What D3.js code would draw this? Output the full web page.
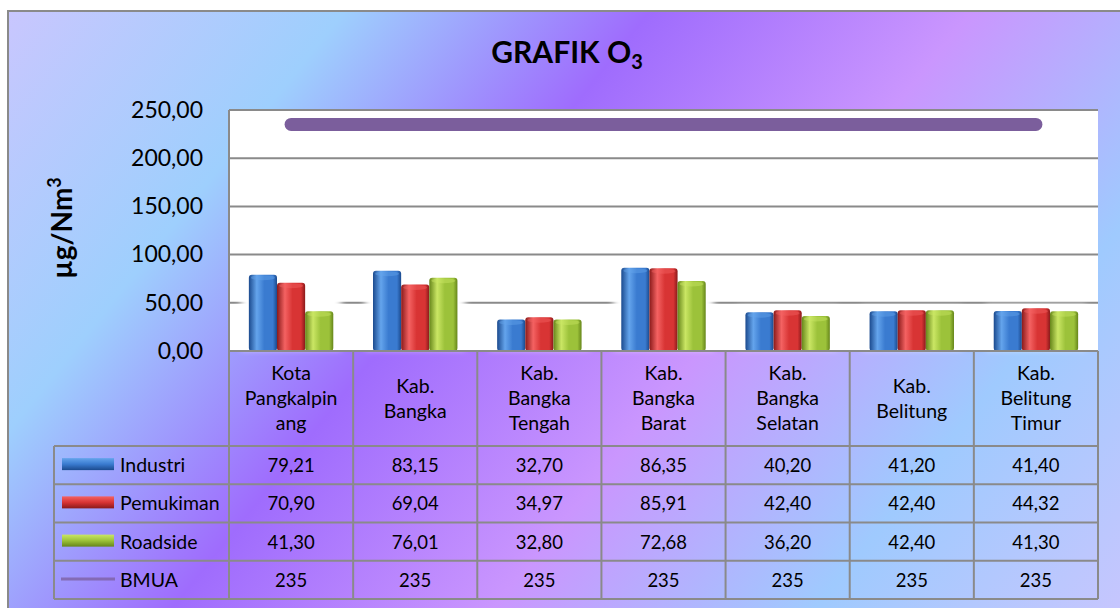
<!DOCTYPE html>
<html>
<head>
<meta charset="utf-8">
<script src="https://cdn.jsdelivr.net/npm/d3@7"></script>
<style>
  html, body { margin: 0; padding: 0; background: #fff; }
  svg { display: block; font-family: Lato, "Open Sans", sans-serif; }
</style>
</head>
<body>
<svg id="chart" width="1120" height="608"></svg>
<script>
// ---- data ----
const categories = ["Kota Pangkalpinang", "Kab. Bangka", "Kab. Bangka Tengah", "Kab. Bangka Barat",
                    "Kab. Bangka Selatan", "Kab. Belitung", "Kab. Belitung Timur"];
const categoryLines = [
  ["Kota", "Pangkalpin", "ang"],
  ["Kab.", "Bangka"],
  ["Kab.", "Bangka", "Tengah"],
  ["Kab.", "Bangka", "Barat"],
  ["Kab.", "Bangka", "Selatan"],
  ["Kab.", "Belitung"],
  ["Kab.", "Belitung", "Timur"]
];
const industri  = [79.21, 83.15, 32.70, 86.35, 40.20, 41.20, 41.40];
const pemukiman = [70.90, 69.04, 34.97, 85.91, 42.40, 42.40, 44.32];
const roadside  = [41.30, 76.01, 32.80, 72.68, 36.20, 42.40, 41.30];
const bmua      = [235, 235, 235, 235, 235, 235, 235];
const barSeriesNames = ["Industri", "Pemukiman", "Roadside"];
const lineSeriesName = "BMUA";
const yTicks = [0, 50, 100, 150, 200, 250];
const titleText = "GRAFIK O";
const titleSub = "3";
const yLabelText = "µg/Nm";
const yLabelSup = "3";

// ---- styling ----
const barPalette = {
  Industri:  { dark: "#1b4a8e", light: "#64a4ec", mid: "#3a7bd0" },
  Pemukiman: { dark: "#8a1a1a", light: "#f46262", mid: "#d83434" },
  Roadside:  { dark: "#66861a", light: "#cae664", mid: "#9cc23a" }
};
const lineColor = "#7b5e9c";
const gridColor = "#8a8a8a";

const svg = d3.select("#chart");
const defs = svg.append("defs");

// chart area background
const bg = defs.append("linearGradient").attr("id", "bg")
  .attr("gradientUnits", "userSpaceOnUse")
  .attr("x1", 0).attr("y1", 0).attr("x2", 980).attr("y2", 784);
[[0, "#cbc6fe"], [0.22, "#9ecffd"], [0.41, "#9f6cfd"], [0.61, "#ca96fe"], [0.81, "#9fcafe"], [1, "#c6c6fe"]]
  .forEach(([o, c]) => bg.append("stop").attr("offset", o).attr("stop-color", c));

// cylinder-style bar fills
Object.entries(barPalette).forEach(([name, p]) => {
  const g = defs.append("linearGradient").attr("id", "bar-" + name)
    .attr("x1", 0).attr("y1", 0).attr("x2", 1).attr("y2", 0);
  [[0, p.dark], [0.28, p.light], [0.55, p.mid], [0.85, p.mid], [1, p.dark]]
    .forEach(([o, c]) => g.append("stop").attr("offset", o).attr("stop-color", c));
  const s = defs.append("linearGradient").attr("id", "sw-" + name)
    .attr("x1", 0).attr("y1", 0).attr("x2", 0).attr("y2", 1);
  [[0, p.light], [0.5, p.mid], [1, p.dark]]
    .forEach(([o, c]) => s.append("stop").attr("offset", o).attr("stop-color", c));
});
defs.append("filter").attr("id", "glow").attr("x", "-20%").attr("y", "-20%").attr("width", "140%").attr("height", "140%")
  .append("feGaussianBlur").attr("stdDeviation", 3);

svg.append("rect").attr("x", 8).attr("y", 11).attr("width", 1130).attr("height", 620)
  .attr("fill", "url(#bg)").attr("stroke", gridColor).attr("stroke-width", 2);

// ---- layout ----
const plot = { left: 229, right: 1098, top: 110, bottom: 351 };
const table = { legendLeft: 54, headerBottom: 446, bottom: 599 };
const rowH = (table.bottom - table.headerBottom) / 4;

const x = d3.scaleBand().domain(categories).range([plot.left, plot.right])
  .paddingInner(0.32).paddingOuter(0.16);
const xs = d3.scaleBand().domain(barSeriesNames).range([0, x.bandwidth()]);
const y = d3.scaleLinear().domain([0, 250]).range([plot.bottom, plot.top]);
const step = x.step();
const colLeft = i => plot.left + i * step;

const locale = d3.formatLocale({ decimal: ",", thousands: ".", grouping: [3], currency: ["", ""] });
const fmt2 = locale.format(".2f");
const fmt0 = locale.format("d");

// plot area
svg.append("rect").attr("x", plot.left).attr("y", plot.top)
  .attr("width", plot.right - plot.left).attr("height", plot.bottom - plot.top).attr("fill", "#fff");

svg.append("g").selectAll("line").data(yTicks).join("line")
  .attr("x1", plot.left).attr("x2", plot.right)
  .attr("y1", d => y(d)).attr("y2", d => y(d))
  .attr("stroke", gridColor).attr("stroke-width", 2);
svg.append("line").attr("x1", plot.left).attr("x2", plot.left)
  .attr("y1", plot.top).attr("y2", plot.bottom).attr("stroke", gridColor).attr("stroke-width", 2);

// y axis labels
const yAxis = svg.append("g").attr("transform", `translate(${plot.left},0)`)
  .call(d3.axisLeft(y).tickValues(yTicks).tickFormat(fmt2).tickSize(0).tickPadding(26));
yAxis.select(".domain").remove();
yAxis.selectAll("text").attr("font-size", 23).attr("fill", "#000").attr("font-family", "Lato, sans-serif");

// bars
const rows = categories.map((c, i) => ({
  cat: c,
  vals: [
    { s: "Industri", v: industri[i] },
    { s: "Pemukiman", v: pemukiman[i] },
    { s: "Roadside", v: roadside[i] }
  ]
}));

svg.append("g").selectAll("rect").data(rows).join("rect")
  .attr("x", d => x(d.cat) - 8).attr("width", x.bandwidth() + 16)
  .attr("y", d => y(d3.max(d.vals, e => e.v)) - 3)
  .attr("height", d => plot.bottom - y(d3.max(d.vals, e => e.v)) + 1)
  .attr("fill", "#fff").attr("filter", "url(#glow)");

const barG = svg.append("g").selectAll("g").data(rows).join("g")
  .attr("transform", d => `translate(${x(d.cat)},0)`);
barG.selectAll("rect").data(d => d.vals).join("rect")
  .attr("x", d => xs(d.s)).attr("width", xs.bandwidth())
  .attr("y", d => y(d.v)).attr("height", d => y(0) - y(d.v))
  .attr("rx", 3).attr("fill", d => `url(#bar-${d.s})`);
barG.selectAll("ellipse").data(d => d.vals).join("ellipse")
  .attr("cx", d => xs(d.s) + xs.bandwidth() / 2).attr("cy", d => y(d.v) + 3)
  .attr("rx", xs.bandwidth() / 2 - 2).attr("ry", 2.5)
  .attr("fill", d => barPalette[d.s].light).attr("opacity", 0.45);

// threshold line
svg.append("path").datum(bmua)
  .attr("d", d3.line().x((v, i) => x(categories[i]) + x.bandwidth() / 2).y(v => y(v)))
  .attr("fill", "none").attr("stroke", lineColor).attr("stroke-width", 13).attr("stroke-linecap", "round");

// ---- data table ----
const tg = svg.append("g").attr("stroke", gridColor).attr("stroke-width", 2);
tg.append("line").attr("x1", plot.left).attr("x2", plot.right).attr("y1", plot.bottom).attr("y2", plot.bottom);
for (let r = 0; r <= 4; r++) {
  const yy = table.headerBottom + r * rowH;
  tg.append("line").attr("x1", table.legendLeft).attr("x2", plot.right).attr("y1", yy).attr("y2", yy);
}
tg.append("line").attr("x1", table.legendLeft).attr("x2", table.legendLeft)
  .attr("y1", table.headerBottom).attr("y2", table.bottom);
d3.range(categories.length + 1).forEach(i => {
  tg.append("line").attr("x1", colLeft(i)).attr("x2", colLeft(i))
    .attr("y1", plot.bottom).attr("y2", table.bottom);
});

// header labels
const headerMid = (plot.bottom + table.headerBottom) / 2;
const lineH = 25;
categoryLines.forEach((lines, i) => {
  const cx = colLeft(i) + step / 2;
  const y0 = headerMid - (lines.length - 1) * lineH / 2;
  svg.append("g").selectAll("text").data(lines).join("text")
    .attr("x", cx).attr("y", (d, k) => y0 + k * lineH + 6.5)
    .attr("text-anchor", "middle").attr("font-size", 19.5).attr("fill", "#000")
    .text(d => d);
});

// value rows
const tableRows = [
  { name: "Industri", values: industri, f: fmt2 },
  { name: "Pemukiman", values: pemukiman, f: fmt2 },
  { name: "Roadside", values: roadside, f: fmt2 },
  { name: lineSeriesName, values: bmua, f: fmt0 }
];
tableRows.forEach((row, r) => {
  const cy = table.headerBottom + r * rowH + rowH / 2;
  if (row.name === lineSeriesName) {
    svg.append("line").attr("x1", 61).attr("x2", 115).attr("y1", cy - 1).attr("y2", cy - 1)
      .attr("stroke", lineColor).attr("stroke-opacity", 0.75).attr("stroke-width", 3);
  } else {
    svg.append("rect").attr("x", 62).attr("y", cy - 7).attr("width", 52).attr("height", 12)
      .attr("fill", `url(#sw-${row.name})`);
  }
  svg.append("text").attr("x", 120).attr("y", cy + 7).attr("font-size", 19.5).attr("fill", "#000")
    .text(row.name);
  svg.append("g").selectAll("text").data(row.values).join("text")
    .attr("x", (v, i) => colLeft(i) + step / 2).attr("y", cy + 7)
    .attr("text-anchor", "middle").attr("font-size", 18.5).attr("fill", "#000")
    .text(v => row.f(v));
});

// title
const title = svg.append("text").attr("x", 567).attr("y", 63).attr("text-anchor", "middle")
  .attr("font-size", 30).attr("font-weight", "bold").attr("fill", "#000");
title.append("tspan").text(titleText);
title.append("tspan").attr("font-size", 20).attr("dy", 6).text(titleSub);

// y axis title
const yl = svg.append("text").attr("transform", "translate(72,228) rotate(-90)")
  .attr("text-anchor", "middle").attr("font-size", 28).attr("font-weight", "bold").attr("fill", "#000");
yl.append("tspan").text(yLabelText);
yl.append("tspan").attr("font-size", 18).attr("dy", -11).text(yLabelSup);
</script>
</body>
</html>
